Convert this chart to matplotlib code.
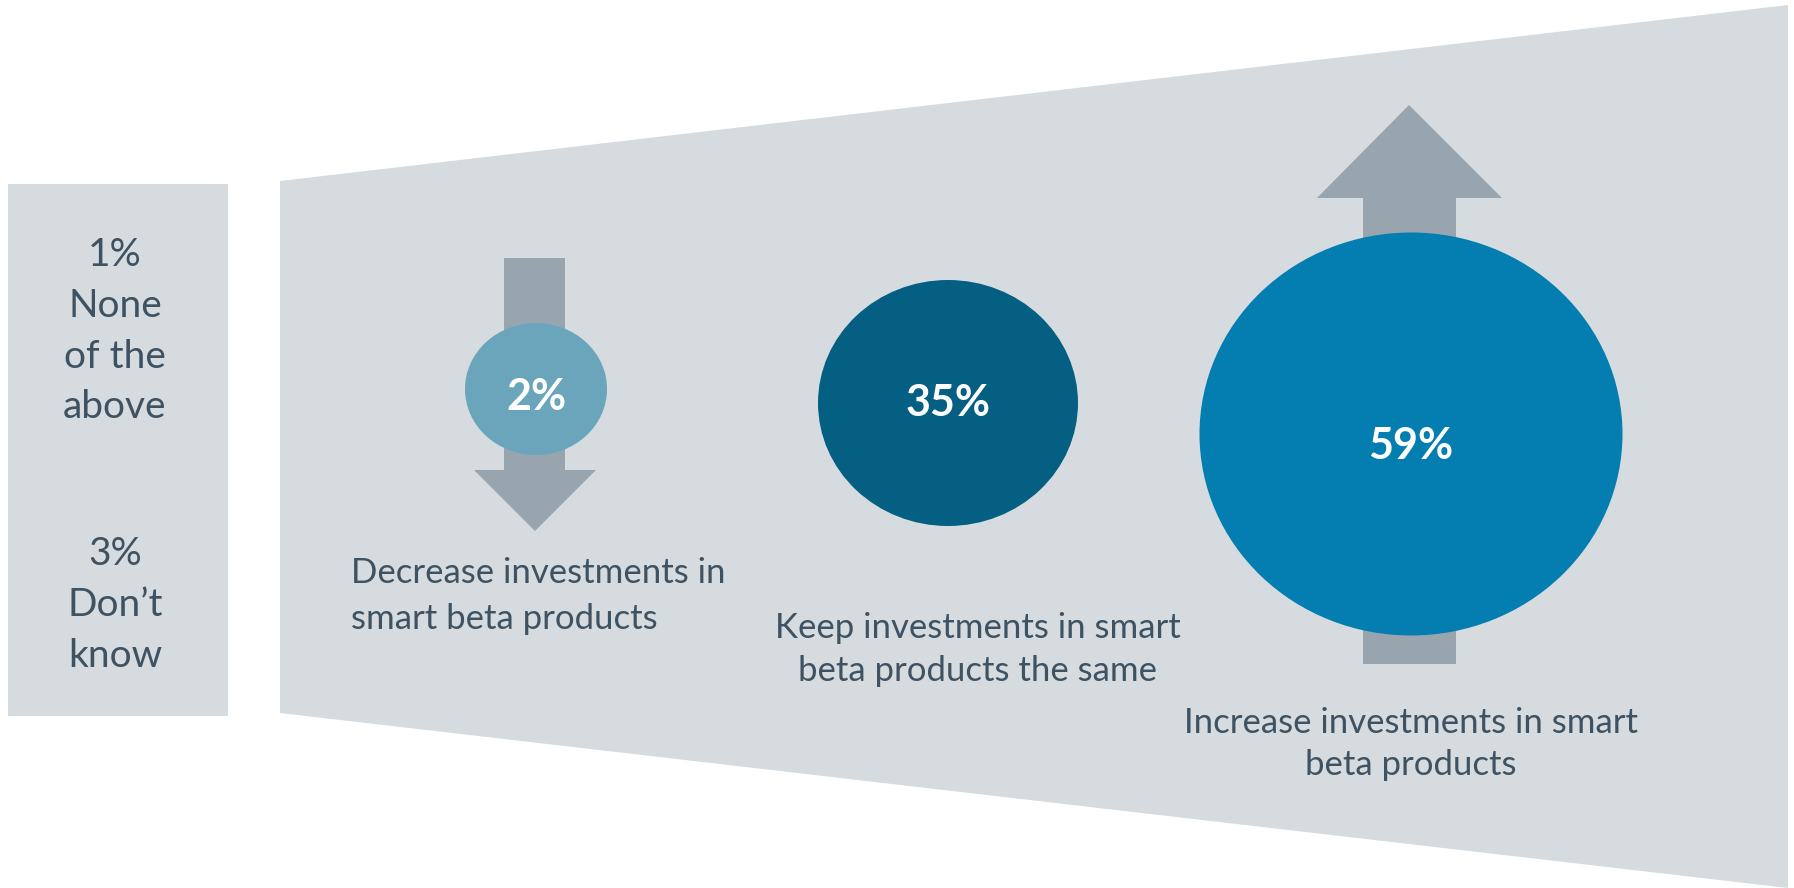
import matplotlib
matplotlib.use("Agg")
import matplotlib.pyplot as plt
from matplotlib.patches import Ellipse, Polygon, Rectangle

# survey answers: share of respondents per planned change
answers = [["Decrease investments in", "smart beta products"],
           ["Keep investments in smart", "beta products the same"],
           ["Increase investments in smart", "beta products"]]
shares = [2, 35, 59]
side_answers = [["None", "of the", "above"], ["Don\u2019t", "know"]]
side_shares = [1, 3]

# bubble geometry (pixels), bubble colours
bubble_x = [536, 948, 1411]
bubble_y = [389, 403, 434]
bubble_w = [142, 260, 423]
bubble_h = [132, 246, 403]
bubble_c = ["#6aa5bb", "#045f82", "#047eb0"]
pct_base = [410, 416, 459]

# label placement: anchor x, alignment, baseline of each line
label_x = [351, 978, 1411]
label_ha = ["left", "center", "center"]
label_base = [[583, 629], [638, 681], [733, 775]]
side_base = [[266, 317, 368, 418], [565, 616, 667]]

grey_bg = "#d6dbdf"
arrow_c = "#98a5af"
text_c = "#3e5262"

plt.rcParams["font.family"] = ["Lato", "DejaVu Sans"]

fig = plt.figure(figsize=(17.94, 8.88), dpi=100)
ax = fig.add_axes([0, 0, 1, 1])
ax.set_xlim(0, 1794)
ax.set_ylim(888, 0)
ax.axis("off")

# side box with the minor answers
ax.add_patch(Rectangle((8, 184), 220, 532, color=grey_bg, lw=0))
# widening funnel behind the bubbles
ax.add_patch(Polygon([(280, 181), (1788, 5), (1788, 888), (280, 713)],
                     closed=True, color=grey_bg, lw=0))

# down arrow
ax.add_patch(Polygon([(504, 258), (565, 258), (565, 470), (596, 470),
                      (535, 531), (474, 470), (504, 470)],
                     closed=True, color=arrow_c, lw=0))
# up arrow
ax.add_patch(Polygon([(1363, 664), (1456, 664), (1456, 198), (1502, 198),
                      (1409, 105), (1317, 198), (1363, 198)],
                     closed=True, color=arrow_c, lw=0))

for x, y, w, h, c, s, b in zip(bubble_x, bubble_y, bubble_w, bubble_h,
                               bubble_c, shares, pct_base):
    ax.add_patch(Ellipse((x, y), w, h, color=c, lw=0))
    ax.text(x, b, f"{s}%", color="white", fontsize=31, fontweight="bold",
            ha="center", va="baseline")

# answer labels under the bubbles
for lines, x, ha, bases in zip(answers, label_x, label_ha, label_base):
    for line, b in zip(lines, bases):
        ax.text(x, b, line, color=text_c, fontsize=25, ha=ha, va="baseline")

# minor answers in the side box
for s, lines, bases in zip(side_shares, side_answers, side_base):
    for line, b in zip([f"{s}%"] + lines, bases):
        ax.text(115, b, line, color=text_c, fontsize=28, ha="center",
                va="baseline")

fig.savefig("out.png", dpi=100, facecolor="white")
